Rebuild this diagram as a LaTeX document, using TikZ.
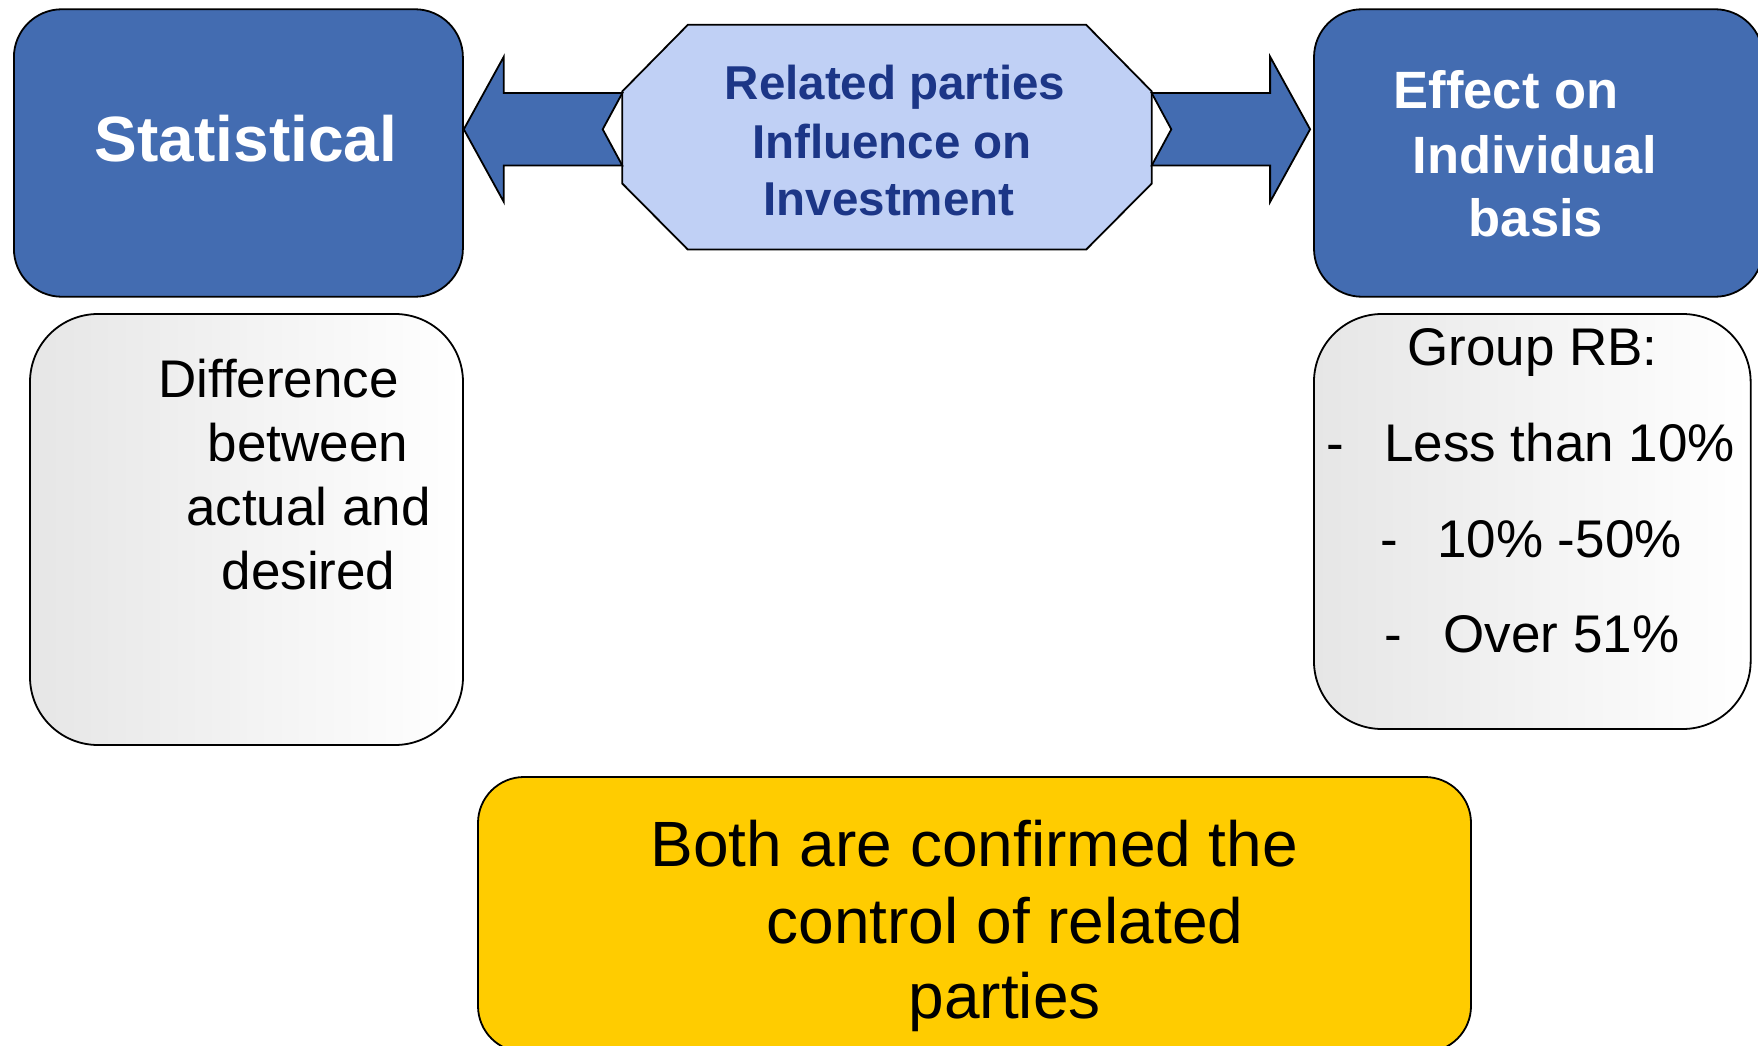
\documentclass[tikz,border=0pt]{standalone}
\usepackage{fontspec}
\setmainfont{Liberation Sans}
\usetikzlibrary{backgrounds,calc}

\definecolor{boxblue}{RGB}{67,108,177}
\definecolor{octblue}{RGB}{192,208,245}
\definecolor{navytext}{RGB}{28,54,135}
\definecolor{gold}{RGB}{255,204,0}
\definecolor{paleleft}{RGB}{230,230,230}

\begin{document}
\begin{tikzpicture}[x=1pt,y=-1pt,
  outline/.style={draw=black,line width=1.8pt},
  bluebox/.style={outline,fill=boxblue,rounded corners=48pt,inner sep=0pt,
    minimum width=449pt,minimum height=287.5pt},
  greybox/.style={outline,left color=paleleft,right color=white,
    rounded corners=68pt,inner sep=0pt},
  goldbox/.style={outline,fill=gold,rounded corners=46pt,inner sep=0pt},
  octagon/.style={outline,fill=octblue,line join=miter},
  blockarrow/.style={outline,fill=boxblue,line join=miter,miter limit=20},
  txt/.style={inner sep=0pt,anchor=base},
  txtleft/.style={inner sep=0pt,anchor=base west},
  bigtitle/.style={font=\bfseries\fontsize{64}{77}\selectfont,text=white},
  sidetitle/.style={font=\bfseries\fontsize{52.5}{63}\selectfont,text=white},
  hubtitle/.style={font=\bfseries\fontsize{47.5}{57}\selectfont,text=navytext},
  bodytext/.style={font=\fontsize{53}{64}\selectfont,text=black},
  bigbody/.style={font=\fontsize{64}{77}\selectfont,text=black}
]
\useasboundingbox (0,0) rectangle (1758,1046);

% top row: two blue boxes and the central octagon
\node[bluebox] (stat) at (238.4,153) {};
\node[bluebox] (eff) at (1538.5,153) {};
\node[inner sep=0pt,minimum width=529pt,minimum height=224.3pt] (oct) at (887,137.2) {};
\begin{pgfonlayer}{background}
  \filldraw[octagon]
    ($(oct.north west)+(65.5,0)$) -- ($(oct.north east)+(-65.5,0)$)
    -- ($(oct.north east)+(0,66.5)$) -- ($(oct.south east)+(0,-66)$)
    -- ($(oct.south east)+(-65.5,0)$) -- ($(oct.south west)+(65.5,0)$)
    -- ($(oct.south west)+(0,-66)$) -- ($(oct.north west)+(0,66.5)$) -- cycle;
\end{pgfonlayer}

% lower row: grey boxes and the yellow conclusion
\node[greybox,minimum width=433pt,minimum height=431pt] (diff) at (246.5,529.5) {};
\node[greybox,minimum width=436.7pt,minimum height=415pt] (grp) at (1532.3,521.5) {};
\node[goldbox,minimum width=993pt,minimum height=275pt] (both) at (974.5,914.5) {};

% notched block arrows leaving the octagon
\coordinate (axis) at (0,129.3);
\path (stat.east |- axis) coordinate (ltip)
      (oct.west |- axis) coordinate (ltail)
      (oct.east |- axis) coordinate (rtail)
      ($(eff.west |- axis)+(-3,0)$) coordinate (rtip);
\draw[blockarrow] (ltip) -- ++(40,-72.6) -- ++(0,36.4)
  -- ($(ltail)+(0,-36.2)$) -- ($(ltail)+(-19.6,0)$) -- ($(ltail)+(0,36.2)$)
  -- ($(ltip)+(40,36.2)$) -- ++(0,36.4) -- cycle;
\draw[blockarrow] ($(rtail)+(0,-36.2)$) -- ($(rtip)+(-40,-36.2)$) -- ++(0,-36.4)
  -- (rtip) -- ($(rtip)+(-40,72.6)$) -- ++(0,-36.4)
  -- ($(rtail)+(0,36.2)$) -- ($(rtail)+(19.6,0)$) -- cycle;

% labels
\node[txt,bigtitle] (statlbl) at (246,161.7) {Statistical};

\node[txt,hubtitle] (hub1) at (895,100) {Related parties};
\node[txt,hubtitle] (hub2) at (892,158) {Influence on};
\node[txt,hubtitle] (hub3) at (889,215.3) {Investment};

\node[txt,sidetitle] (eff1) at (1506,108.3) {Effect on};
\node[txt,sidetitle] (eff2) at (1535,173.3) {Individual};
\node[txt,sidetitle] (eff3) at (1536,236.7) {basis};

\node[txt,bodytext] (diff1) at (278.5,397) {Difference};
\node[txt,bodytext] (diff2) at (308,461) {between};
\node[txt,bodytext] (diff3) at (308.5,525) {actual and};
\node[txt,bodytext] (diff4) at (308.5,589.3) {desired};

\node[txt,bodytext] (grp0) at (1532.5,365.3) {Group RB:};
\node[txtleft,bodytext] (grpd1) at (1326,461.5) {-};
\node[txtleft,bodytext] (grp1) at (1384,461.5) {Less than 10\%};
\node[txtleft,bodytext] (grpd2) at (1380,557) {-};
\node[txtleft,bodytext] (grp2) at (1437,557) {10\% -50\%};
\node[txtleft,bodytext] (grpd3) at (1384,652.7) {-};
\node[txtleft,bodytext] (grp3) at (1443.5,652.7) {Over 51\%};

\node[txt,bigbody] (both1) at (974.3,866.5) {Both are confirmed the};
\node[txt,bigbody] (both2) at (1005,943) {control of related};
\node[txt,bigbody] (both3) at (1004.6,1018.5) {parties};
\end{tikzpicture}
\end{document}
